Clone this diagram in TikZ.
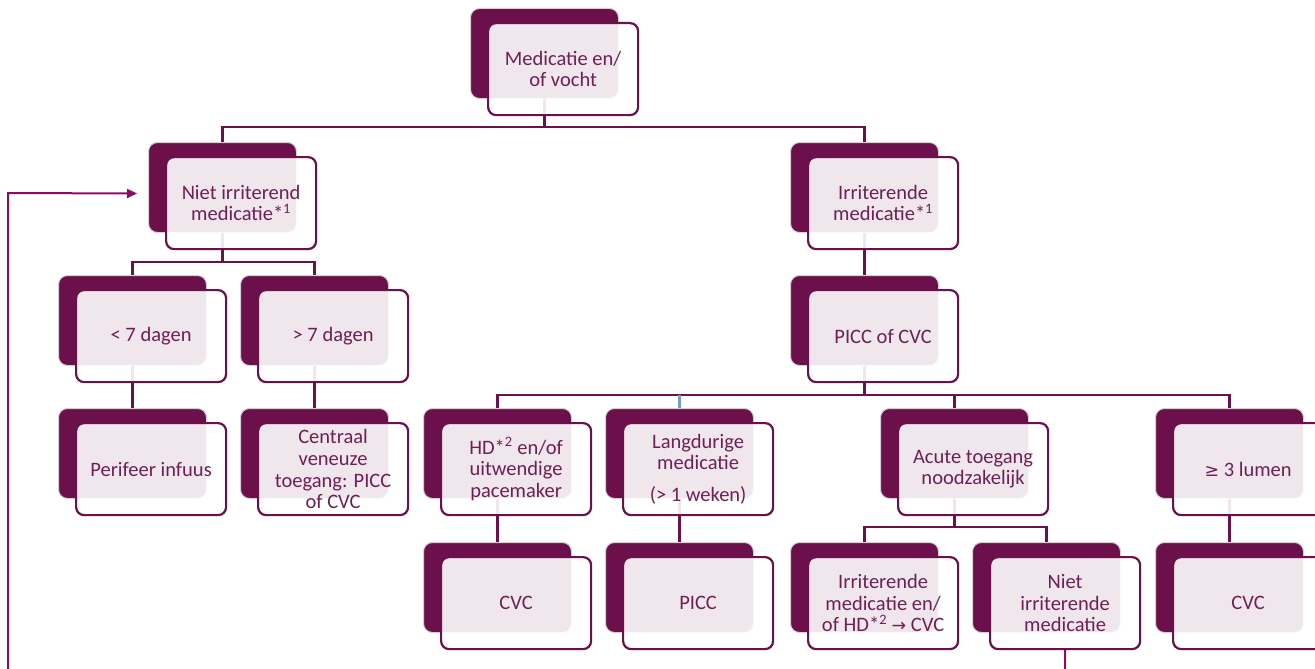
\documentclass[tikz,border=0pt]{standalone}
\usepackage{fontspec}
\setmainfont{Carlito}
\newfontfamily\symfont{DejaVu Sans}[Scale=0.85]
\usetikzlibrary{arrows.meta,backgrounds}

\definecolor{plum}{RGB}{107,16,74}
\definecolor{plumtext}{RGB}{110,32,86}
\definecolor{loopplum}{RGB}{140,12,100}
\definecolor{tickblue}{RGB}{112,158,200}

\tikzset{
  backbox/.style={draw=black!18, line width=1pt, fill=plum, rounded corners=9pt,
    minimum width=148pt, minimum height=90pt, inner sep=0pt, anchor=north west},
  frontbox/.style={draw=plum, line width=2.2pt, fill=white, fill opacity=0.9,
    text opacity=1, text=plumtext, rounded corners=8pt, minimum width=150pt,
    minimum height=92pt, inner sep=0pt, anchor=north west, align=center,
    font=\fontsize{20.5}{21.7}\selectfont},
  link/.style={draw=plum, line width=2.4pt},
  ticklink/.style={draw=tickblue, line width=2.4pt},
  backlink/.style={draw=loopplum, line width=2pt, -{Triangle[length=10pt,width=9pt]}}
}

% dark card with a light card on top: name, x, y of the dark one, text
\newcommand{\cardbox}[4]{%
  \node[backbox] (#1-b) at (#2,#3) {};
  \node[frontbox] (#1) at (#2+17,#3+14) {#4};
}

\begin{document}
\begin{tikzpicture}[x=1pt,y=-1pt]
\useasboundingbox (0,0) rectangle (1315,669);
\clip (0,0) rectangle (1315,669);

% top
\cardbox{med}{470}{8}{Medicatie en/\\of vocht}

% soort medicatie
\cardbox{niet}{148}{142}{Niet irriterend\\medicatie*\textsuperscript{1}}
\cardbox{irr}{790}{142}{Irriterende\\medicatie*\textsuperscript{1}}

% duur en toegang
\cardbox{lt}{58}{275}{< 7 dagen}
\cardbox{gt}{240}{275}{> 7 dagen}
\cardbox{pcvc}{790}{275}{PICC of CVC}

% vierde rij
\cardbox{perif}{58}{408}{Perifeer infuus}
\cardbox{cent}{240}{408}{Centraal\\veneuze\\toegang: PICC\\of CVC}
\cardbox{hd}{423}{408}{HD*\textsuperscript{2} en/of\\uitwendige\\pacemaker}
\cardbox{lang}{605}{408}{Langdurige\\medicatie\\[10pt](> 1 weken)}
\cardbox{acute}{880}{408}{Acute toegang\\noodzakelijk}
\cardbox{lumen}{1155}{408}{{\symfont ≥} 3 lumen}

% onderste rij
\cardbox{cvc1}{423}{542}{CVC}
\cardbox{picc}{605}{542}{PICC}
\cardbox{irrhd}{790}{542}{Irriterende\\medicatie en/\\of HD*\textsuperscript{2} {\symfont →} CVC}
\cardbox{nietirr}{972}{542}{Niet\\irriterende\\medicatie}
\cardbox{cvc2}{1155}{542}{CVC}

% connectors behind the cards
\begin{pgfonlayer}{background}
\clip (0,0) rectangle (1315,669);
\foreach \c in {niet,irr}
  \draw[link] (med-b.center) -- (med-b.center |- 0,127) -| (\c-b.center);
\foreach \c in {lt,gt}
  \draw[link] (niet-b.center) -- (niet-b.center |- 0,262) -| (\c-b.center);
\draw[link] (irr-b.center) -- (pcvc-b.center);
\draw[link] (lt-b.center) -- (perif-b.center);
\draw[link] (gt-b.center) -- (cent-b.center);
\foreach \c in {hd,acute,lumen}
  \draw[link] (pcvc-b.center) -- (pcvc-b.center |- 0,395) -| (\c-b.center);
\draw[ticklink] (lang-b.center |- 0,395) -- (lang-b.center);
\draw[link] (hd-b.center) -- (cvc1-b.center);
\draw[link] (lang-b.center) -- (picc-b.center);
\foreach \c in {irrhd,nietirr}
  \draw[link] (acute-b.center) -- (acute-b.center |- 0,527) -| (\c-b.center);
\draw[link] (lumen-b.center) -- (cvc2-b.center);

% terug naar niet irriterend
\draw[backlink] (nietirr.south) -- ++(0,40) -| (8,193)
  -- ([xshift=-11pt,yshift=-6pt]niet-b.west);
\end{pgfonlayer}

\end{tikzpicture}
\end{document}
